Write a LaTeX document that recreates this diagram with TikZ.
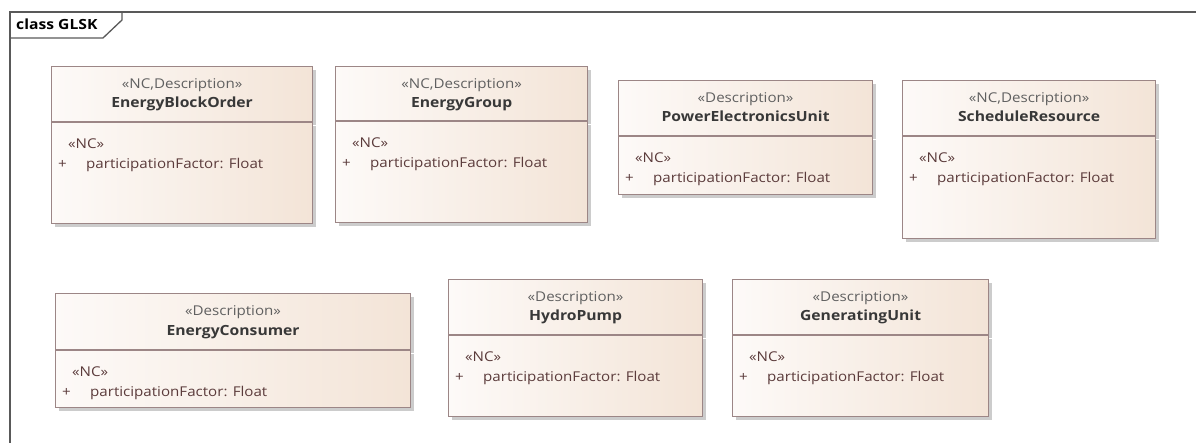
\documentclass[tikz,border=0pt]{standalone}
\usepackage{fontspec}
\setmainfont{Open Sans}[FakeStretch=1.12]
\usetikzlibrary{positioning,calc,shadows}

\definecolor{boxleft}{HTML}{FDFAF8}
\definecolor{boxright}{HTML}{F3E4D7}
\definecolor{boxline}{HTML}{9C8686}
\definecolor{stereotext}{HTML}{606060}
\definecolor{attrtext}{HTML}{5B3B3B}
\definecolor{nametext}{HTML}{383838}
\definecolor{framegray}{HTML}{595959}

\tikzset{
  boxpart/.style={draw=boxline, line width=1.2pt, left color=boxleft, right color=boxright,
    inner sep=0pt, anchor=north west,
    drop shadow={shadow xshift=3pt, shadow yshift=-3pt, fill=black!20, opacity=1}},
  header/.style={boxpart, minimum height=55pt},
  stereo/.style={font=\fontsize{13.5}{15}\selectfont, text=stereotext, inner sep=0pt, anchor=base},
  cname/.style={font=\fontsize{14}{16}\selectfont\bfseries, text=nametext, inner sep=0pt, anchor=base},
  attr/.style={font=\fontsize{13.5}{15}\selectfont, text=attrtext, inner sep=0pt, anchor=base west},
}

\begin{document}
\begin{tikzpicture}[x=1pt, y=-1pt]
  \useasboundingbox (0,0) rectangle (1196,443);

  % frame
  \draw[framegray, line width=1.3pt] (10,443) -- (10,12) -- (1196,12);
  \draw[framegray, line width=1.3pt] (10,38) -- (103,38) -- (122,20) -- (122,12);
  \node[font=\fontsize{14}{16}\selectfont\bfseries, inner sep=0pt, anchor=base west] (title) at (16,30) {class GLSK};

  % EnergyBlockOrder
  \node[header, minimum width=261pt] (ebo) at (51,66) {};
  \node[boxpart, minimum width=261pt, minimum height=101pt] (ebo-body) at (ebo.south west) {};
  \node[stereo] (ebo-st) at ($(ebo.north)+(0,23)$) {«NC,Description»};
  \node[cname] (ebo-name) at ($(ebo.north)+(0,42)$) {EnergyBlockOrder};
  \node[attr] (ebo-nc) at ($(ebo-body.north west)+(17,26)$) {«NC»};
  \node[attr] (ebo-plus) at ($(ebo-body.north west)+(7,46)$) {+};
  \node[attr] (ebo-pf) at ($(ebo-body.north west)+(35,46)$) {participationFactor: Float};

  % EnergyGroup
  \node[header, minimum width=252pt, minimum height=54pt] (eg) at (335,66) {};
  \node[boxpart, minimum width=252pt, minimum height=101pt] (eg-body) at (eg.south west) {};
  \node[stereo] (eg-st) at ($(eg.north)+(0,23)$) {«NC,Description»};
  \node[cname] (eg-name) at ($(eg.north)+(0,42)$) {EnergyGroup};
  \node[attr] (eg-nc) at ($(eg-body.north west)+(17,26)$) {«NC»};
  \node[attr] (eg-plus) at ($(eg-body.north west)+(7,46)$) {+};
  \node[attr] (eg-pf) at ($(eg-body.north west)+(35,46)$) {participationFactor: Float};

  % PowerElectronicsUnit
  \node[header, minimum width=254pt] (peu) at (618,80) {};
  \node[boxpart, minimum width=254pt, minimum height=58pt] (peu-body) at (peu.south west) {};
  \node[stereo] (peu-st) at ($(peu.north)+(0,23)$) {«Description»};
  \node[cname] (peu-name) at ($(peu.north)+(0,42)$) {PowerElectronicsUnit};
  \node[attr] (peu-nc) at ($(peu-body.north west)+(17,26)$) {«NC»};
  \node[attr] (peu-plus) at ($(peu-body.north west)+(7,46)$) {+};
  \node[attr] (peu-pf) at ($(peu-body.north west)+(35,46)$) {participationFactor: Float};

  % ScheduleResource
  \node[header, minimum width=253pt] (sr) at (902,80) {};
  \node[boxpart, minimum width=253pt, minimum height=102pt] (sr-body) at (sr.south west) {};
  \node[stereo] (sr-st) at ($(sr.north)+(0,23)$) {«NC,Description»};
  \node[cname] (sr-name) at ($(sr.north)+(0,42)$) {ScheduleResource};
  \node[attr] (sr-nc) at ($(sr-body.north west)+(17,26)$) {«NC»};
  \node[attr] (sr-plus) at ($(sr-body.north west)+(7,46)$) {+};
  \node[attr] (sr-pf) at ($(sr-body.north west)+(35,46)$) {participationFactor: Float};

  % EnergyConsumer
  \node[header, minimum width=355pt, minimum height=56pt] (ec) at (55,293) {};
  \node[boxpart, minimum width=355pt, minimum height=57pt] (ec-body) at (ec.south west) {};
  \node[stereo] (ec-st) at ($(ec.north)+(0,23)$) {«Description»};
  \node[cname] (ec-name) at ($(ec.north)+(0,42)$) {EnergyConsumer};
  \node[attr] (ec-nc) at ($(ec-body.north west)+(17,26)$) {«NC»};
  \node[attr] (ec-plus) at ($(ec-body.north west)+(7,46)$) {+};
  \node[attr] (ec-pf) at ($(ec-body.north west)+(35,46)$) {participationFactor: Float};

  % HydroPump
  \node[header, minimum width=254pt] (hp) at (448,279) {};
  \node[boxpart, minimum width=254pt, minimum height=81pt] (hp-body) at (hp.south west) {};
  \node[stereo] (hp-st) at ($(hp.north)+(0,23)$) {«Description»};
  \node[cname] (hp-name) at ($(hp.north)+(0,42)$) {HydroPump};
  \node[attr] (hp-nc) at ($(hp-body.north west)+(17,26)$) {«NC»};
  \node[attr] (hp-plus) at ($(hp-body.north west)+(7,46)$) {+};
  \node[attr] (hp-pf) at ($(hp-body.north west)+(35,46)$) {participationFactor: Float};

  % GeneratingUnit
  \node[header, minimum width=256pt] (gu) at (732,279) {};
  \node[boxpart, minimum width=256pt, minimum height=81pt] (gu-body) at (gu.south west) {};
  \node[stereo] (gu-st) at ($(gu.north)+(0,23)$) {«Description»};
  \node[cname] (gu-name) at ($(gu.north)+(0,42)$) {GeneratingUnit};
  \node[attr] (gu-nc) at ($(gu-body.north west)+(17,26)$) {«NC»};
  \node[attr] (gu-plus) at ($(gu-body.north west)+(7,46)$) {+};
  \node[attr] (gu-pf) at ($(gu-body.north west)+(35,46)$) {participationFactor: Float};
\end{tikzpicture}
\end{document}
